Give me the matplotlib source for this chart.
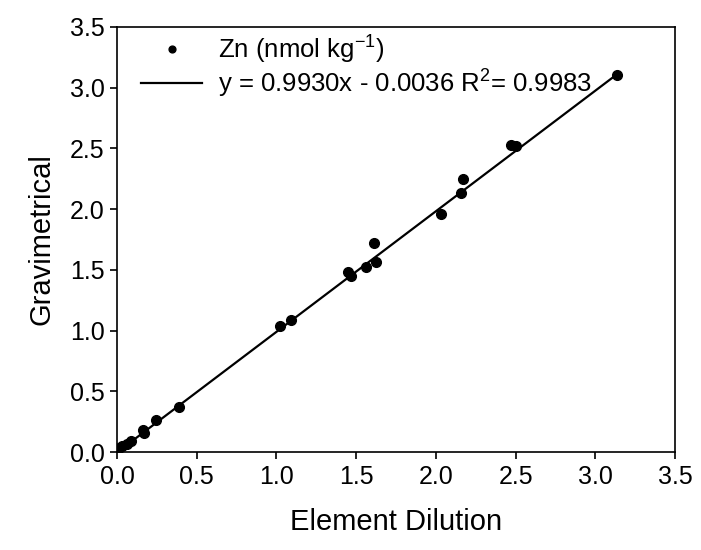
import matplotlib
matplotlib.use('Agg')
import matplotlib.pyplot as plt
import numpy as np

plt.rcParams['font.family'] = ['Liberation Sans', 'DejaVu Sans']
plt.rcParams['mathtext.fontset'] = 'custom'
plt.rcParams['mathtext.rm'] = 'Liberation Sans'

# Zn data: element dilution vs gravimetrical (nmol kg-1)
dilution = [3.137, 2.47, 2.50, 2.17, 2.16, 2.03, 1.61, 1.625, 1.56, 1.45, 1.47,
            1.09, 1.02, 0.39, 0.245, 0.16, 0.17, 0.09, 0.06, 0.03, 0.01, 0.0]
gravimetrical = [3.105, 2.53, 2.52, 2.25, 2.13, 1.96, 1.72, 1.565, 1.52, 1.48, 1.45,
                 1.09, 1.04, 0.37, 0.26, 0.18, 0.16, 0.09, 0.07, 0.05, 0.03, 0.01]

slope = 0.9930
intercept = -0.0036
fit_label = 'y = 0.9930x - 0.0036 R$^2$= 0.9983'

ticks = [0.0, 0.5, 1.0, 1.5, 2.0, 2.5, 3.0, 3.5]

fig = plt.figure(figsize=(7.01, 5.5), dpi=100)
ax = fig.add_axes([117 / 701, 98 / 550, 558 / 701, 425 / 550])

ax.plot(dilution, gravimetrical, 'o', color='black', markersize=7,
        label='Zn (nmol kg$^{-1}$)', zorder=3)
xf = np.array([0.0, max(dilution)])
ax.plot(xf, slope * xf + intercept, '-', color='black', linewidth=1.6, label=fit_label)

ax.set_xlim(0, 3.5)
ax.set_ylim(0, 3.5)
ax.set_xticks(ticks)
ax.set_yticks(ticks)
ax.set_xticklabels([f'{t:.1f}' for t in ticks])
ax.set_yticklabels([f'{t:.1f}' for t in ticks])
ax.tick_params(direction='out', length=5, width=1.2, labelsize=18, pad=4,
               top=False, right=False)
for s in ax.spines.values():
    s.set_linewidth(1.2)

ax.set_xlabel('Element Dilution', fontsize=21, labelpad=14)
ax.set_ylabel('Gravimetrical', fontsize=21, labelpad=10)

leg = ax.legend(loc='upper left', bbox_to_anchor=(0.008, 1.033), frameon=False,
                fontsize=18.5, handlelength=2.4, handletextpad=0.6, markerscale=0.7,
                labelspacing=0.05, borderaxespad=0.35)

fig.savefig('out.png', dpi=100)
